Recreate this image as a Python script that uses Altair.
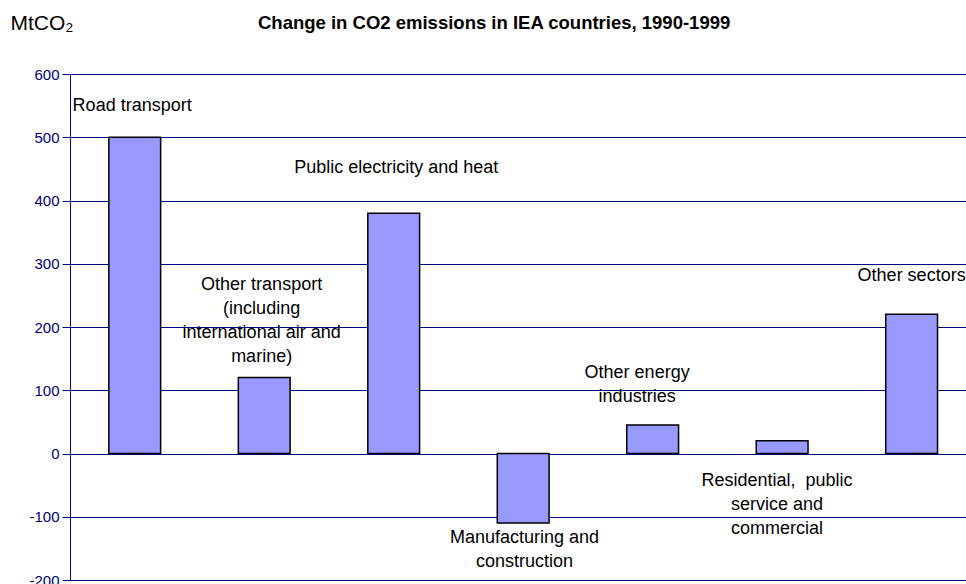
import altair as alt
import pandas as pd

# Sectors and their change in CO2 emissions (MtCO2), 1990-1999
sectors = [
    "Road transport",
    "Other transport",
    "Public electricity and heat",
    "Manufacturing and construction",
    "Other energy industries",
    "Residential, public service and commercial",
    "Other sectors",
]
change_mtco2 = [500, 120, 380, -110, 45, 20, 220]

# Free-floating sector labels: text, horizontal position (in category units),
# vertical value of the first line
label_text = [
    "Road transport",
    "Other transport\n(including\ninternational air and\nmarine)",
    "Public electricity and heat",
    "Manufacturing and\nconstruction",
    "Other energy\nindustries",
    "Residential,\u00a0 public\nservice and\ncommercial",
    "Other sectors",
]
label_x = [0.48, 1.48, 2.52, 3.51, 4.38, 5.46, 6.5]
label_y = [549, 266, 451, -133, 128, -44, 280]

y_ticks = [-200, -100, 0, 100, 200, 300, 400, 500, 600]

NAVY = "#000080"
FONT = "Liberation Sans"

bars_df = pd.DataFrame({"sector": sectors, "value": change_mtco2})
bars_df["pos"] = range(len(sectors))
bars_df["x0"] = bars_df["pos"] + 0.3
bars_df["x1"] = bars_df["pos"] + 0.7
bars_df["base"] = 0

labels_df = pd.DataFrame({"text": label_text, "x": label_x, "y": label_y})

x_scale = alt.Scale(domain=[0, 6.92], nice=False, zero=False)
y_scale = alt.Scale(domain=[-200, 600], nice=False)

bars = alt.Chart(bars_df).mark_bar(
    color="#9999FF", stroke="black", strokeWidth=1.5
).encode(
    x=alt.X("x0:Q", scale=x_scale, axis=None),
    x2="x1:Q",
    y=alt.Y(
        "value:Q",
        scale=y_scale,
        axis=alt.Axis(
            values=y_ticks,
            labelExpr="toString(datum.value)",
            grid=True,
            gridColor=NAVY,
            gridWidth=1,
            domainColor=NAVY,
            domainWidth=1,
            tickColor=NAVY,
            tickSize=8,
            labelColor=NAVY,
            labelFont=FONT,
            labelFontSize=15,
            labelPadding=3,
            title="MtCO₂",
            titleAngle=0,
            titleX=-60,
            titleY=-45,
            titleAlign="left",
            titleBaseline="alphabetic",
            titleFont=FONT,
            titleFontSize=21,
            titleFontWeight="normal",
            titleColor="black",
        ),
    ),
    y2="base:Q",
)

labels = alt.Chart(labels_df).mark_text(
    font=FONT, fontSize=18, color="black", align="center",
    baseline="middle", lineBreak="\n", lineHeight=24,
).encode(
    x=alt.X("x:Q", scale=x_scale, axis=None),
    y=alt.Y("y:Q", scale=y_scale),
    text="text:N",
)

chart = alt.layer(bars, labels).properties(
    width=896,
    height=506,
    autosize=alt.AutoSizeParams(type="none"),
    padding={"left": 70, "top": 74, "right": 0, "bottom": 4},
    title=alt.TitleParams(
        text="Change in CO2 emissions in IEA countries, 1990-1999",
        anchor="start",
        frame="group",
        dx=188,
        dy=24,
        font=FONT,
        fontSize=18.5,
        fontWeight="bold",
        color="black",
    ),
).configure_view(stroke=None).configure(background="white")

chart.save("out.html", embed_options={"renderer": "svg", "actions": False})
